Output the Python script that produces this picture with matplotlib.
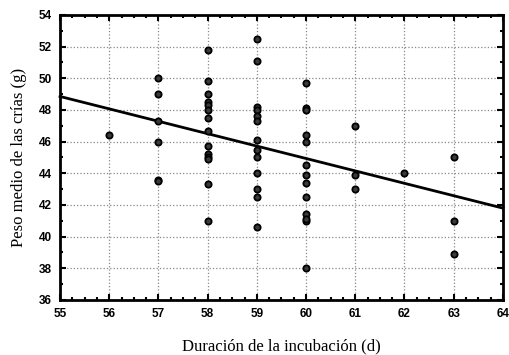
import numpy as np
import matplotlib.pyplot as plt
from matplotlib.ticker import MultipleLocator

# incubation length (d) and mean chick weight (g)
dias = [56,
        57, 57, 57, 57, 57, 57,
        58, 58, 58, 58, 58, 58, 58, 58, 58, 58, 58, 58, 58, 58,
        59, 59, 59, 59, 59, 59, 59, 59, 59, 59, 59, 59, 59,
        60, 60, 60, 60, 60, 60, 60, 60, 60, 60, 60, 60, 60,
        61, 61, 61,
        62,
        63, 63, 63]
peso = [46.4,
        50.0, 49.0, 47.3, 46.0, 43.6, 43.5,
        51.8, 49.8, 49.0, 48.5, 48.3, 48.0, 47.5, 46.7, 45.7, 45.2, 45.0, 44.9, 43.3, 41.0,
        52.5, 51.1, 48.2, 48.0, 47.6, 47.3, 46.1, 45.5, 45.0, 43.0, 42.5, 40.6, 44.0,
        49.7, 48.1, 48.0, 46.4, 46.0, 44.5, 43.9, 43.4, 42.5, 41.4, 41.0, 41.1, 38.0,
        47.0, 43.9, 43.0,
        44.0,
        45.0, 41.0, 38.9]

# fitted line read at the axis ends
linea_x = [55, 64]
linea_y = [48.85, 41.8]

fig = plt.figure(figsize=(5.09, 3.55), dpi=100)
ax = fig.add_axes([0.118, 0.155, 0.870, 0.803])

ax.plot(linea_x, linea_y, color='black', lw=2, zorder=3, clip_on=False)
ax.plot(dias, peso, 'o', ms=4.5, mfc='#3a3a3a', mec='black', mew=1.3, zorder=4)

ax.set_xlim(55, 64)
ax.set_ylim(36, 54)
ax.xaxis.set_major_locator(MultipleLocator(1))
ax.xaxis.set_minor_locator(MultipleLocator(0.25))
ax.yaxis.set_major_locator(MultipleLocator(2))
ax.yaxis.set_minor_locator(MultipleLocator(1))
ax.tick_params(which='both', direction='in', top=True, right=True, width=1.5)
ax.tick_params(which='major', length=4)
ax.tick_params(which='minor', length=2.5)
ax.tick_params(axis='x', which='major', pad=6)
ax.tick_params(axis='y', which='major', pad=6)
for lab in ax.get_xticklabels() + ax.get_yticklabels():
    lab.set_fontfamily('Liberation Sans')
    lab.set_fontweight('bold')
    lab.set_fontsize(8.5)
ax.grid(True, which='major', linestyle=':', color='#888888', lw=0.9)
for s in ax.spines.values():
    s.set_linewidth(2)

ax.set_xlabel('Duración de la incubación (d)', family='Liberation Serif', fontsize=12, labelpad=13)
ax.set_ylabel('Peso medio de las crías (g)', family='Liberation Serif', fontsize=12, labelpad=8)

fig.savefig('out.png', dpi=100)
